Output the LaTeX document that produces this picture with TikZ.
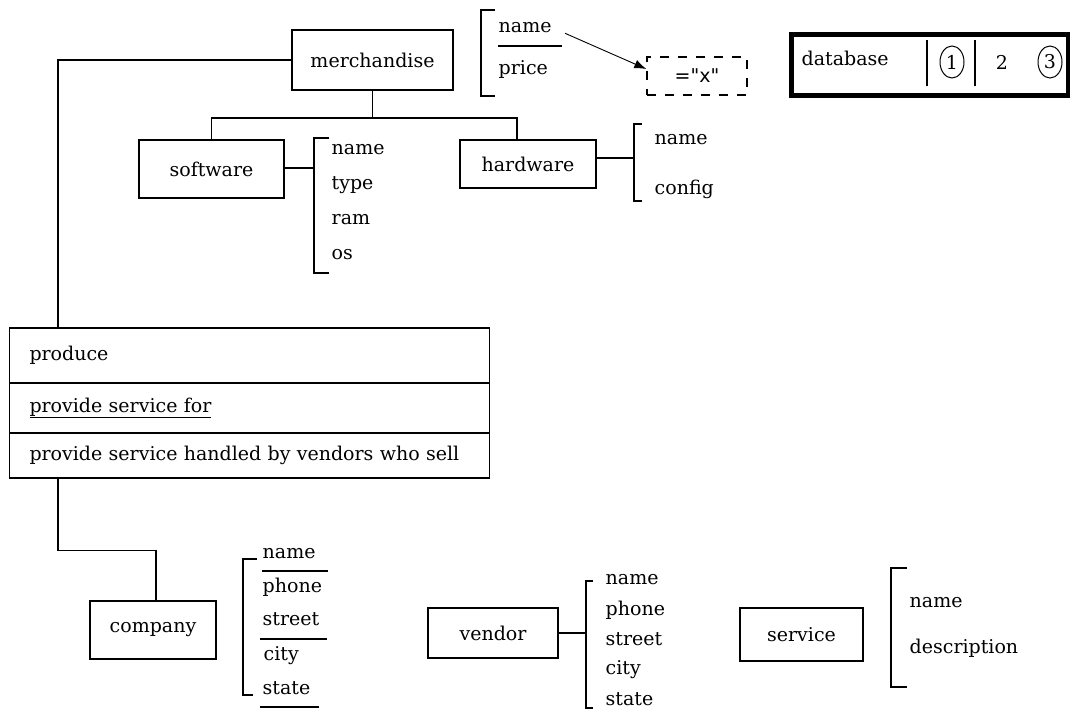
\documentclass[tikz,border=0pt]{standalone}
\usepackage{fontspec}
\setmainfont{DejaVu Serif}
\newfontfamily\valuefont{DejaVu Sans}[Ligatures=TeXOff]
\usetikzlibrary{arrows.meta, positioning, shapes.geometric}

\begin{document}
\begin{tikzpicture}[
    x=1pt, y=-1pt,
    line width=1.4pt,
    every node/.style={font=\fontsize{19}{22}\selectfont},
    entity/.style={draw, rectangle, minimum width=#1, inner sep=0pt},
    rel/.style={draw, rectangle, minimum width=480pt, inner sep=0pt,
                text width=440pt, align=left},
    attr/.style={anchor=mid west, inner sep=0pt},
    circ/.style={draw, ellipse, line width=1pt, minimum width=24pt,
                 minimum height=32pt, inner sep=0pt},
    arrow/.style={-{Latex[length=12pt, width=9pt]}, line width=0.9pt},
]
    \useasboundingbox (0,0) rectangle (1070,711);

    % Merchandise hierarchy
    \node[entity=161pt, minimum height=60pt] (merch) at (372.5,60) {merchandise};
    \node[entity=145pt, minimum height=58pt] (soft) at (211.5,169) {software};
    \node[entity=136pt, minimum height=48pt] (hard) at (528,164) {hardware};
    \coordinate (bus) at (372,118);
    \draw (merch.south) -- (merch.south |- bus);
    \draw (soft.north) |- (bus) -| ([xshift=-11pt]hard.north);

    % Software attributes
    \coordinate (softbr) at (314,168);
    \draw (soft.east |- softbr) -- (softbr);
    \draw (329,138) -- (314,138) -- (314,273) -- (329,273);
    \node[attr] (swname) at (331,152) {name};
    \node[attr] (swtype) at (331,187) {type};
    \node[attr] (swram)  at (331,222) {ram};
    \node[attr] (swos)   at (331,257) {os};

    % Hardware attributes
    \coordinate (hardbr) at (634,158);
    \draw (hard.east |- hardbr) -- (hardbr);
    \draw (642,124) -- (634,124) -- (634,201) -- (642,201);
    \node[attr] (hwname)   at (654,142) {name};
    \node[attr] (hwconfig) at (654,192) {config};

    % Merchandise attributes and condition
    \draw (495,10) -- (481,10) -- (481,96) -- (495,96);
    \node[attr] (mname)  at (498,30) {name};
    \node[attr] (mprice) at (498,72) {price};
    \draw (498,46) -- (562,46);
    \node[draw, dashed, dash pattern=on 9pt off 9pt, minimum width=100pt,
          minimum height=38pt, inner sep=0pt] (xval) at (697,76)
          {\valuefont ="x"};
    \draw[arrow, shorten <=14pt] (mname.east) -- ([yshift=7pt]xval.west);

    % Database selector
    \node[draw, line width=5pt, minimum width=277pt, minimum height=61pt,
          inner sep=0pt] (db) at (929.5,65) {};
    \node[attr] (dbname) at (801,63) {database};
    \draw (927,40) -- (927,86);
    \draw (975,40) -- (975,86);
    \node[circ] (dbone) at (952,62) {1};
    \node (dbtwo) at (1002,62) {2};
    \node[circ] (dbthree) at (1050,62) {3};

    % Relationships
    \node[rel, minimum height=55pt] (produce) at (249.5,355.5) {produce};
    \node[rel, minimum height=50pt] (servfor) at (249.5,408) {\underline{provide service for}};
    \node[rel, minimum height=45pt] (servby) at (249.5,455.5)
        {provide service handled by vendors who sell};
    \draw (merch.west) -| ([xshift=49pt]produce.north west);

    % Company
    \node[entity=126pt, minimum height=58pt] (company) at (153,630) {company};
    \draw ([xshift=49pt]servby.south west) -- ++(0,72) -| ([xshift=3pt]company.north);
    \draw (257,559) -- (243,559) -- (243,695) -- (253,695);
    \node[attr] (cname)   at (262,556) {name};
    \node[attr] (cphone)  at (262,590) {phone};
    \node[attr] (cstreet) at (262,623) {street};
    \node[attr] (ccity)   at (263,658) {city};
    \node[attr] (cstate)  at (262,692) {state};
    \draw (262,571) -- (328,571);
    \draw (260,639) -- (327,639);
    \draw (260,707) -- (319,707);

    % Vendor
    \node[entity=130pt, minimum height=50pt] (vendor) at (493,633) {vendor};
    \coordinate (vendbr) at (586,633);
    \draw (vendor.east) -- (vendbr);
    \draw (593,581) -- (586,581) -- (586,708) -- (593,708);
    \node[attr] (vname)   at (605,582) {name};
    \node[attr] (vphone)  at (605,613) {phone};
    \node[attr] (vstreet) at (605,643) {street};
    \node[attr] (vcity)   at (605,672) {city};
    \node[attr] (vstate)  at (605,703) {state};

    % Service
    \node[entity=123pt, minimum height=53pt] (service) at (801.5,634.5) {service};
    \draw (907,568) -- (891,568) -- (891,687) -- (907,687);
    \node[attr] (sname) at (909,605) {name};
    \node[attr] (sdesc) at (909,651) {description};
\end{tikzpicture}
\end{document}
